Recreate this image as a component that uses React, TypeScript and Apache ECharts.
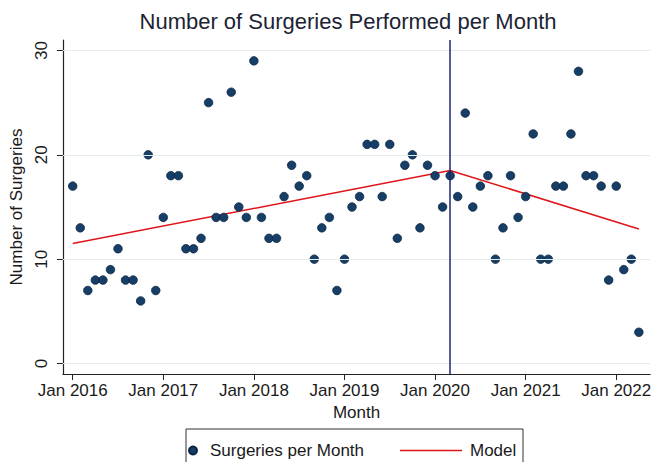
import React, { useEffect, useRef } from "react";
import * as echarts from "echarts";

// Monthly surgeries, Jan 2016 (month 0) .. Apr 2022 (month 75)
const surgeries: number[] = [
  17, 13, 7, 8, 8, 9, 11, 8, 8, 6, 20, 7,
  14, 18, 18, 11, 11, 12, 25, 14, 14, 26, 15, 14,
  29, 14, 12, 12, 16, 19, 17, 18, 10, 13, 14, 7,
  10, 15, 16, 21, 21, 16, 21, 12, 19, 20, 13, 19,
  18, 15, 18, 16, 24, 15, 17, 18, 10, 13, 18, 14,
  16, 22, 10, 10, 17, 17, 22, 28, 18, 18, 17, 8,
  17, 9, 10, 3,
];

// Segmented model: [month index, fitted value]
const modelMonths: number[] = [0, 50, 75];
const modelValues: number[] = [11.5, 18.5, 12.9];

// Interruption (Mar 2020)
const breakMonth = 50;

const xTickMonths: number[] = [0, 12, 24, 36, 48, 60, 72];
const xTickLabels: string[] = ["Jan 2016", "Jan 2017", "Jan 2018", "Jan 2019", "Jan 2020", "Jan 2021", "Jan 2022"];
const yTicks: number[] = [0, 10, 20, 30];

const FONT = "'Liberation Sans', Arial, sans-serif";
const TXT = "#1a1a1a";

export default function App() {
  const ref = useRef<HTMLDivElement>(null);
  useEffect(() => {
    if (!ref.current) return;
    const chart = echarts.init(ref.current, undefined, { renderer: "svg" });
    const scatterData = surgeries.map((v, i) => [i, v]);
    const modelData = modelMonths.map((m, i) => [m, modelValues[i]]);
    chart.setOption({
      animation: false,
      backgroundColor: "#ffffff",
      textStyle: { fontFamily: FONT },
      title: {
        text: "Number of Surgeries Performed per Month",
        left: 343,
        top: 5,
        textAlign: "center",
        textStyle: { fontFamily: FONT, fontSize: 22, fontWeight: "normal", color: "#1c2333" },
      },
      grid: { left: 59.5, right: 2, top: 40, bottom: 88, containLabel: false },
      xAxis: {
        type: "value",
        min: -1.3,
        max: 76.5,
        name: "Month",
        nameLocation: "middle",
        nameGap: 28,
        nameTextStyle: { fontFamily: FONT, fontSize: 17, color: TXT },
        axisLine: { show: true, onZero: false, lineStyle: { color: "#222", width: 1.2 } },
        axisTick: { show: true, length: 6, customValues: xTickMonths, lineStyle: { color: "#222" } },
        axisLabel: {
          customValues: xTickMonths,
          margin: 8,
          fontFamily: FONT,
          fontSize: 17,
          color: TXT,
          formatter: (v: number) => {
            const i = xTickMonths.indexOf(Math.round(v));
            return i >= 0 ? xTickLabels[i] : "";
          },
        },
        splitLine: { show: false },
      },
      yAxis: {
        type: "value",
        min: -1,
        max: 31,
        name: "Number of Surgeries",
        nameLocation: "middle",
        nameRotate: 90,
        nameGap: 33,
        nameTextStyle: { fontFamily: FONT, fontSize: 17, color: TXT },
        axisLine: { show: true, onZero: false, lineStyle: { color: "#222", width: 1.2 } },
        axisTick: { show: true, length: 6, customValues: yTicks, lineStyle: { color: "#222" } },
        axisLabel: {
          customValues: yTicks,
          rotate: 90,
          margin: 13,
          fontFamily: FONT,
          fontSize: 17,
          color: TXT,
        },
        splitLine: { show: false },
      },
      legend: [
        {
          left: 183,
          top: 437,
          itemWidth: 24,
          itemHeight: 8,
          data: [{ name: "Surgeries per Month", icon: "circle" }],
          textStyle: { fontFamily: FONT, fontSize: 17, color: TXT },
        },
        {
          left: 395,
          top: 437,
          itemWidth: 62,
          itemHeight: 1.6,
          data: [{ name: "Model", icon: "rect" }],
          textStyle: { fontFamily: FONT, fontSize: 17, color: TXT, padding: [0, 0, 0, 3] },
        },
      ],
      graphic: [
        {
          type: "rect",
          shape: { x: 186, y: 429, width: 337, height: 40 },
          style: { fill: "none", stroke: "#333", lineWidth: 1 },
          silent: true,
        },
      ],
      series: [
        {
          name: "Grid",
          type: "line",
          data: [],
          markLine: {
            silent: true,
            symbol: "none",
            label: { show: false },
            lineStyle: { color: "#e3ecf1", width: 1, type: "solid" },
            data: yTicks.map((t) => ({ yAxis: t })),
          },
        },
        {
          name: "Surgeries per Month",
          type: "scatter",
          data: scatterData,
          symbolSize: 8.5,
          itemStyle: { color: "#163e66", borderColor: "#0a2440", borderWidth: 0.8, opacity: 1 },
          z: 4,
        },
        {
          name: "Model",
          type: "line",
          data: modelData,
          symbol: "none",
          lineStyle: { color: "#e0151a", width: 1.5 },
          itemStyle: { color: "#e0151a" },
          z: 3,
          markLine: {
            silent: true,
            symbol: "none",
            label: { show: false },
            lineStyle: { color: "#1f2670", width: 1.5, type: "solid" },
            data: [{ xAxis: breakMonth }],
          },
        },
      ],
    });
    return () => chart.dispose();
  }, []);
  return <div ref={ref} style={{ width: 654, height: 462, position: "absolute", left: 0, top: 0 }} />;
}
